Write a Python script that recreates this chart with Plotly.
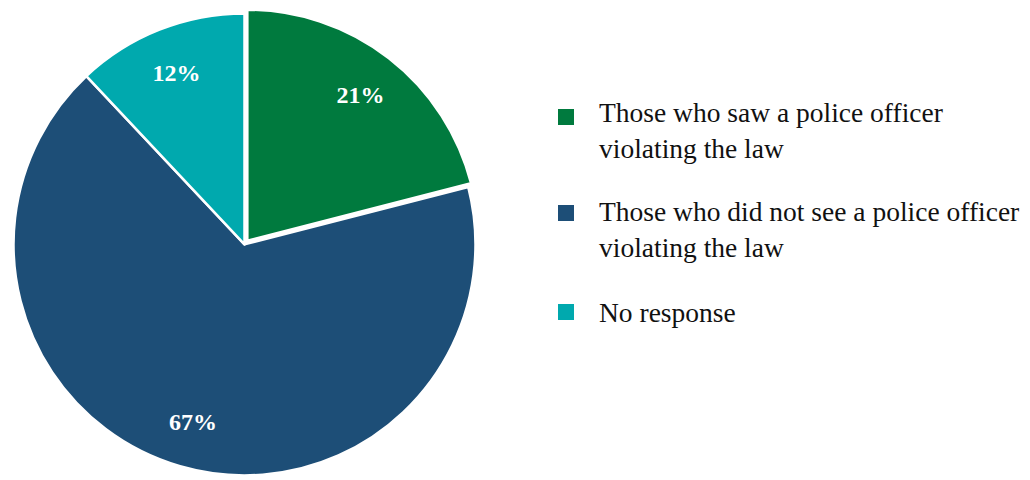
import plotly.graph_objects as go

# ---- data ----
labels = [
    "Those who saw a police officer<br>violating the law",
    "Those who did not see a police officer<br>violating the law",
    "No response",
]
values = [21, 67, 12]
colors = ["#007A3E", "#1D4E77", "#00A9AE"]
pulls = [0.02, 0, 0]

W, H = 1030, 480
FONT = "Liberation Serif"
dom = dict(x=[8.9 / W, 480.1 / W], y=[0, 471.2 / H])

fig = go.Figure()
# coloured slices
fig.add_trace(go.Pie(
    labels=labels, values=values, sort=False,
    direction="clockwise", rotation=0, pull=pulls,
    marker=dict(colors=colors, line=dict(color="white", width=2.5)),
    textinfo="none", hoverinfo="label+percent",
    showlegend=False, domain=dom,
))
# transparent ring carrying the percentage labels (places them near the rim)
fig.add_trace(go.Pie(
    labels=labels, values=values, sort=False,
    direction="clockwise", rotation=0, pull=pulls, hole=0.6,
    marker=dict(colors=["rgba(0,0,0,0)"] * len(values), line=dict(width=0)),
    texttemplate="%{value}%", textposition="inside",
    insidetextorientation="horizontal",
    textfont=dict(family=FONT, size=24, color="white", weight="bold"),
    hoverinfo="skip", showlegend=False, domain=dom,
))

# ---- custom legend (square markers aligned with first text line) ----
sq_top = [109, 205, 304]
txt_top = [95, 194, 295]
for c, lab, st, tt in zip(colors, labels, sq_top, txt_top):
    fig.add_shape(type="rect", xref="paper", yref="paper",
                  x0=558 / W, x1=574 / W, y0=1 - (st + 16) / H, y1=1 - st / H,
                  fillcolor=c, line=dict(width=0))
    fig.add_annotation(xref="paper", yref="paper", x=597 / W, y=1 - tt / H,
                       xanchor="left", yanchor="top", align="left",
                       text=lab, showarrow=False,
                       font=dict(family=FONT, size=27.5, color="#111111"))

fig.update_layout(
    width=W, height=H,
    margin=dict(l=0, r=0, t=0, b=0),
    paper_bgcolor="white",
    plot_bgcolor="white",
)

fig.write_html("out.html",
               config={"displayModeBar": False},
               post_script="document.body.style.margin='0';"
                           "document.body.style.overflow='hidden';")
